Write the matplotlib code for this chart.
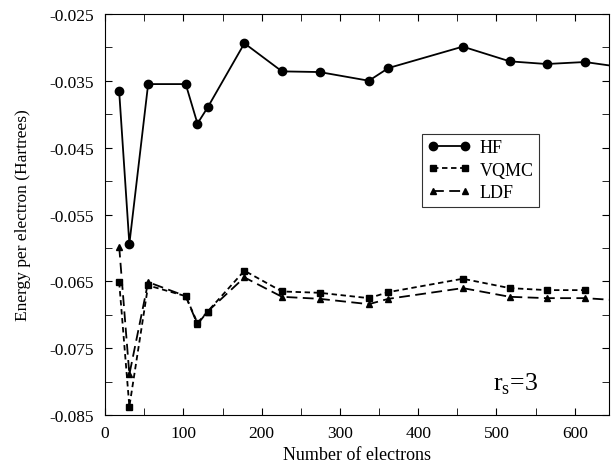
import numpy as np
import matplotlib
matplotlib.use("Agg")
import matplotlib.pyplot as plt
from matplotlib.ticker import MultipleLocator, FixedLocator

plt.rcParams["font.family"] = ["Liberation Serif", "DejaVu Serif"]
plt.rcParams["axes.unicode_minus"] = False

# data
n_hf = [18, 31, 55, 103, 118, 131, 178, 226, 274, 337, 362, 457, 517, 564, 613, 680]
e_hf = [-0.0366, -0.0594, -0.0355, -0.0355, -0.0414, -0.0390, -0.0294, -0.0336,
        -0.0337, -0.0350, -0.0331, -0.0299, -0.0321, -0.0325, -0.0322, -0.0333]

n_vqmc = [18, 31, 55, 103, 118, 131, 178, 226, 274, 337, 362, 457, 517, 564, 613]
e_vqmc = [-0.0651, -0.0837, -0.0656, -0.0672, -0.0712, -0.0695, -0.0634, -0.0665,
          -0.0667, -0.0675, -0.0666, -0.0646, -0.0660, -0.0663, -0.0663]

n_ldf = [18, 31, 55, 103, 118, 131, 178, 226, 274, 337, 362, 457, 517, 564, 613, 680]
e_ldf = [-0.0598, -0.0789, -0.0651, -0.0672, -0.0714, -0.0695, -0.0644, -0.0673,
         -0.0676, -0.0684, -0.0676, -0.0660, -0.0673, -0.0675, -0.0675, -0.0680]

fig = plt.figure(figsize=(6.11, 4.64), dpi=100)
ax = fig.add_axes([0.172, 0.103, 0.825, 0.865])

ax.plot(n_hf, e_hf, "k-", marker="o", ms=6, lw=1.3, label="HF")
ax.plot(n_vqmc, e_vqmc, "k", ls=(0, (3, 2)), marker="s", ms=4.5, lw=1.3, label="VQMC")
ax.plot(n_ldf, e_ldf, "k", ls=(0, (6, 3)), marker="^", ms=5, lw=1.3, label="LDF")

ax.set_xlim(0, 644)
ax.set_ylim(-0.085, -0.025)
ax.xaxis.set_major_locator(MultipleLocator(100))
ax.xaxis.set_minor_locator(MultipleLocator(50))
ax.yaxis.set_major_locator(FixedLocator(np.arange(-0.085, -0.0249, 0.01)))
ax.yaxis.set_minor_locator(FixedLocator(np.arange(-0.08, -0.0249, 0.01)))
ax.yaxis.set_major_formatter(plt.FuncFormatter(lambda v, p: f"{v:.3f}"))
ax.tick_params(which="both", direction="in", top=True, right=True, labelsize=12.5)
ax.tick_params(which="major", length=5)
ax.tick_params(which="minor", length=5)
ax.tick_params(axis="x", pad=7)
ax.tick_params(axis="y", pad=8)

ax.set_xlabel("Number of electrons", fontsize=13, labelpad=4)
ax.set_ylabel("Energy per electron (Hartrees)", fontsize=12.5, labelpad=13)

leg = ax.legend(loc="upper left", bbox_to_anchor=(0.629, 0.701), numpoints=2,
                fontsize=13, frameon=True, fancybox=False, edgecolor="black",
                handlelength=2.4, handletextpad=0.5, borderpad=0.3,
                labelspacing=0.3, borderaxespad=0)
leg.get_frame().set_linewidth(0.8)

ax.text(0.77, 0.065, r"r$_\mathregular{s}$=3", transform=ax.transAxes, fontsize=18.5)

fig.savefig("out.png", dpi=100)
